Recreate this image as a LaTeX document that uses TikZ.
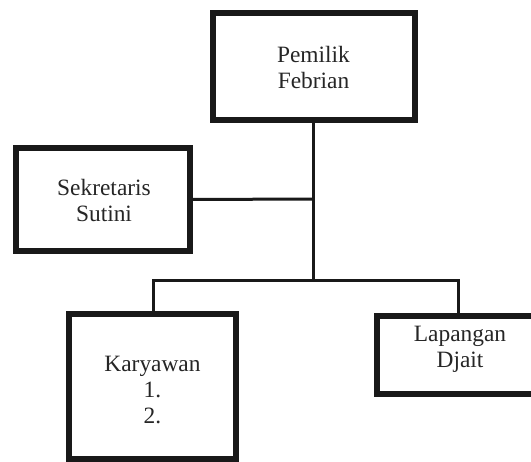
\documentclass[tikz,border=0pt]{standalone}
\usepackage{fontspec}
\setmainfont{Liberation Serif}
\begin{document}
\begin{tikzpicture}[x=1pt,y=1pt,
  box/.style={draw=black!90, line width=6pt, rectangle, inner sep=0pt},
  txt/.style={align=center, inner sep=0pt, text=black!85, font=\fontsize{23.4}{26}\selectfont},
  conn/.style={draw=black!90, line width=3pt, line join=miter}]
\clip (0,0) rectangle (531,-462);
\fill[white] (0,0) rectangle (531,-462);
% boxes
\node[box, minimum width=202pt, minimum height=107pt] (pem) at (313.5,-66.5) {};
\node[box, minimum width=174pt, minimum height=103pt] (sek) at (103,-199.5) {};
\node[box, minimum width=167pt, minimum height=145pt] (kar) at (152.5,-386.5) {};
\node[box, minimum width=166pt, minimum height=78pt] (lap) at (460,-355) {};
% texts
\node[txt] (pemt) at (313.5,-67) {Pemilik\\Febrian};
\node[txt] (sekt) at (104,-200) {Sekretaris\\Sutini};
\node[txt] (kart) at (152.5,-390) {Karyawan\\1.\\2.};
\node[txt] (lapt) at (460,-349) {Lapangan\\Djait};
% junctions
\coordinate (j1) at (313.5,-199);
\coordinate (j2) at (313.5,-281);
\coordinate (jl) at (153,-281);
\coordinate (jr) at (458,-281);
% connectors
\draw[conn] (pem.south) -- (j2);
\draw[conn] (sek.east) -- (j1);
\draw[conn] (kar.north -| jl) -- (jl) -- (jr) -- (jr |- lap.north);
\end{tikzpicture}
\end{document}
